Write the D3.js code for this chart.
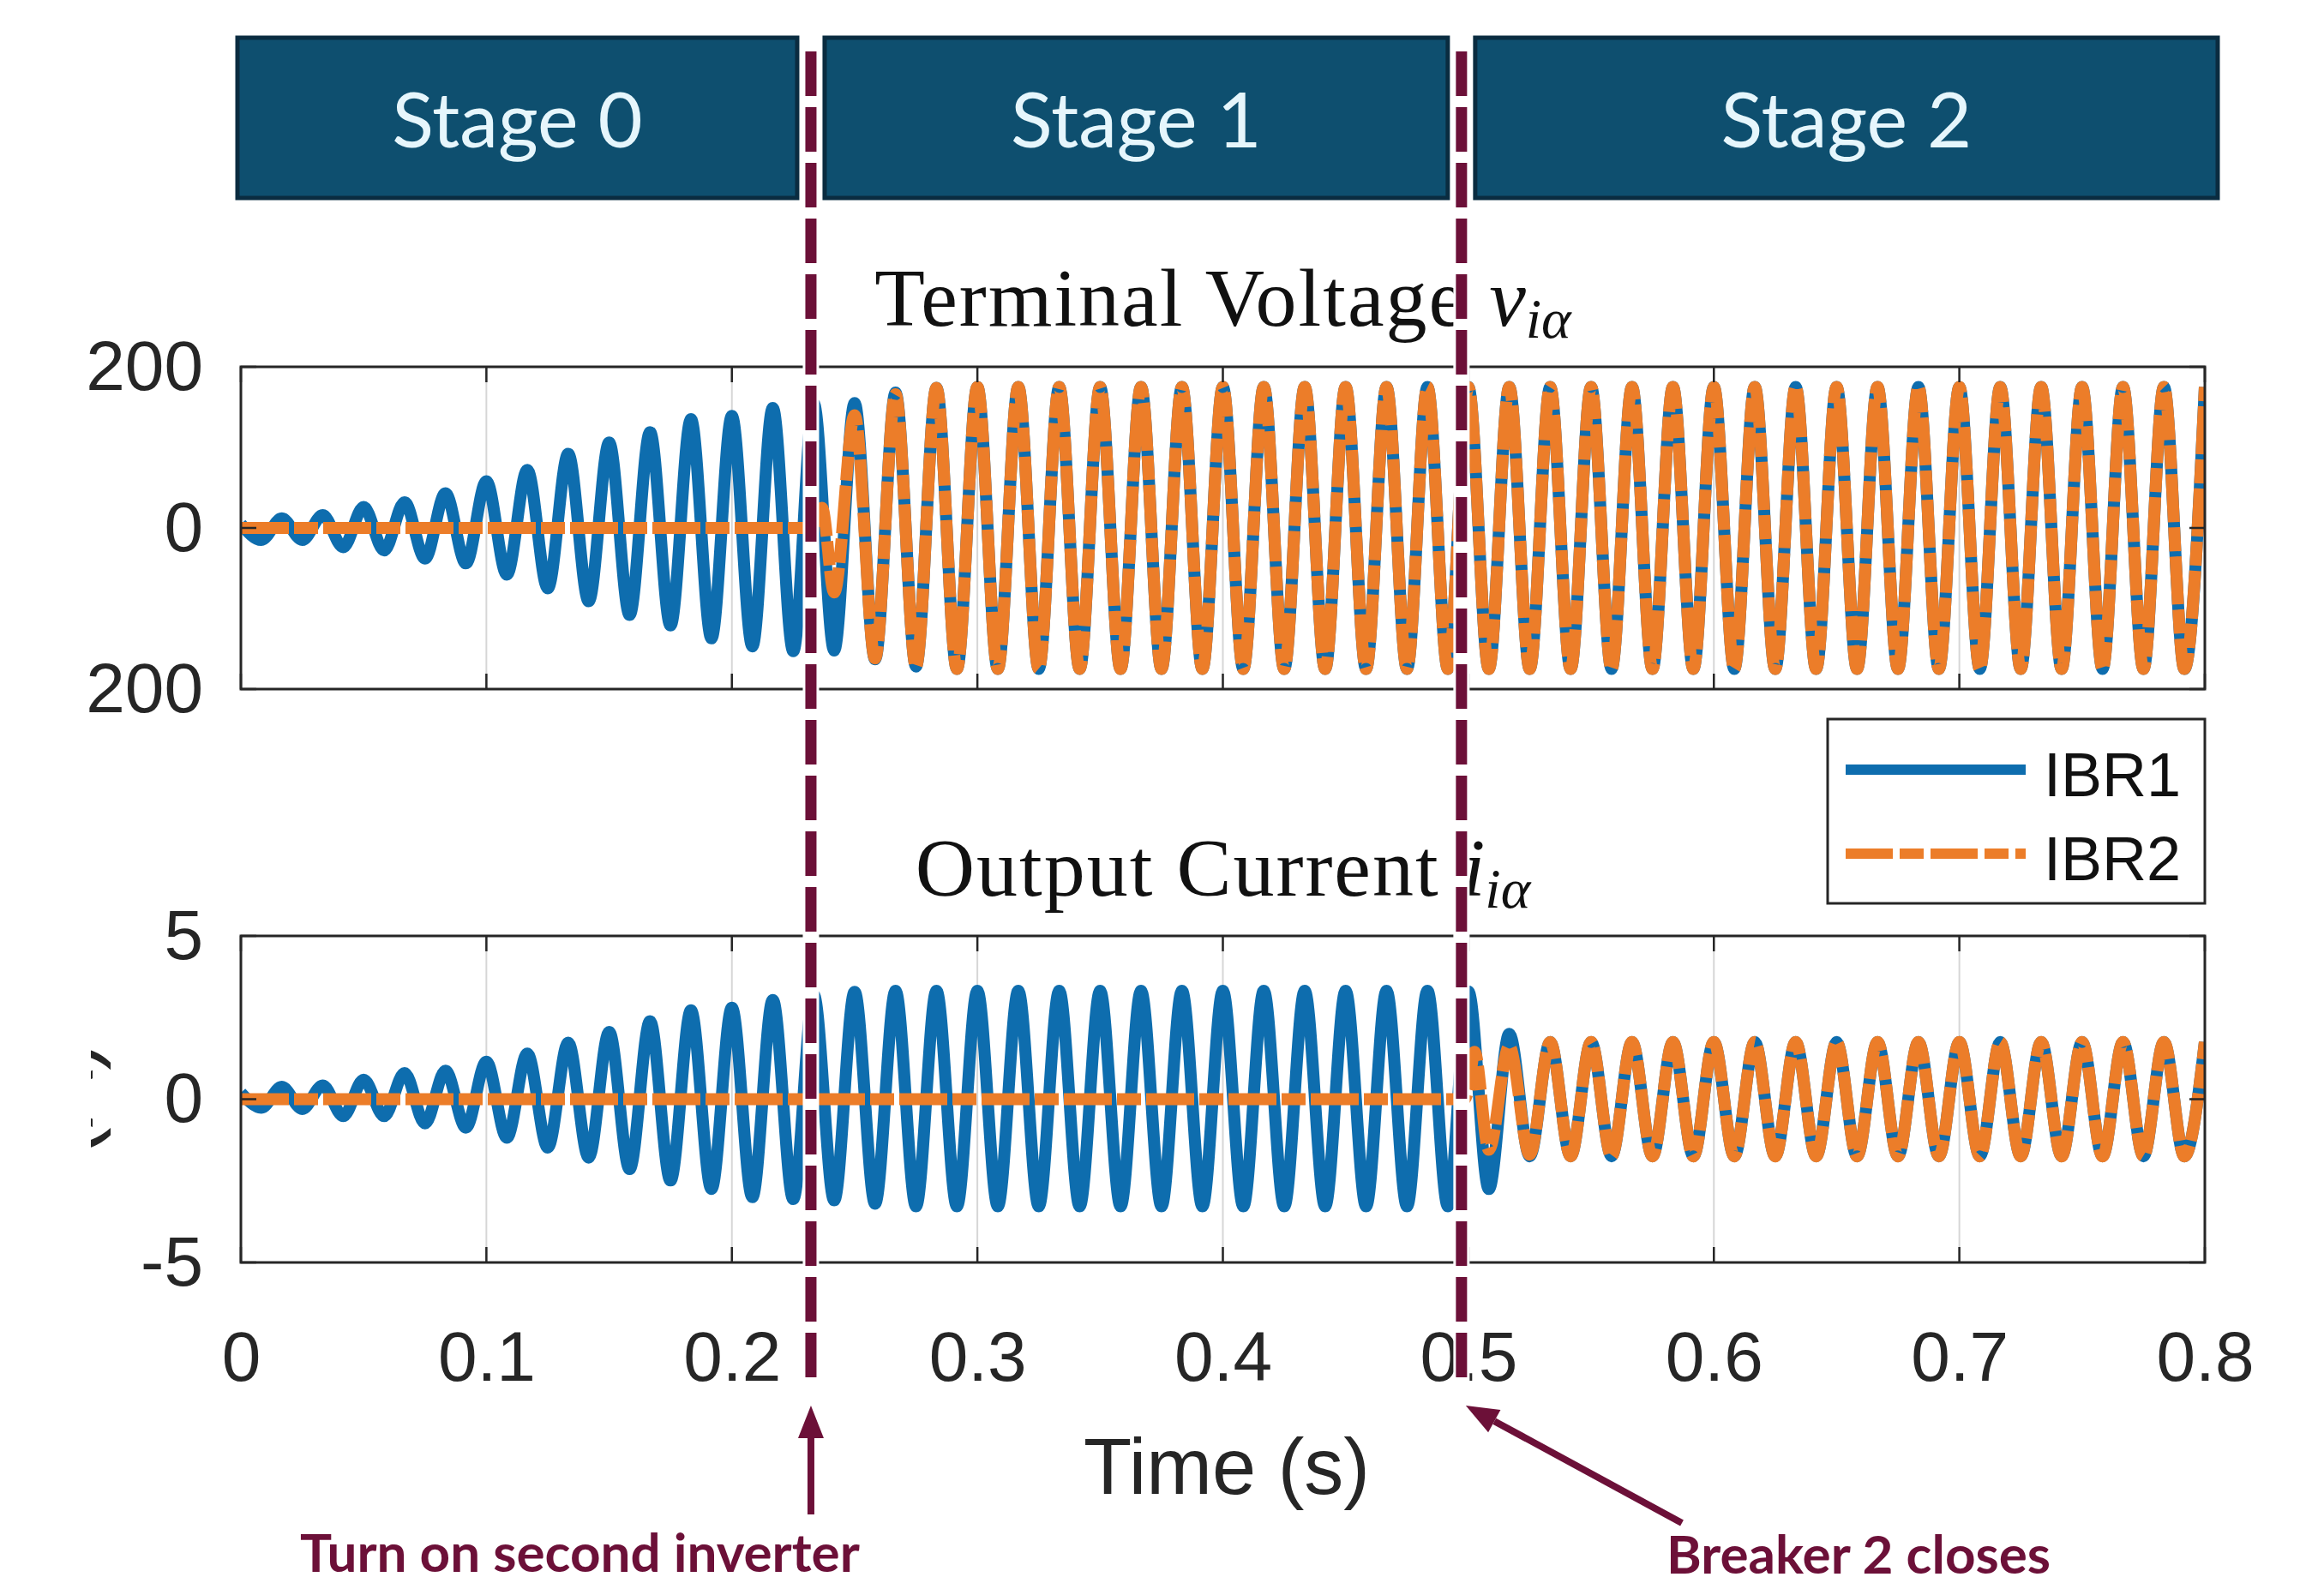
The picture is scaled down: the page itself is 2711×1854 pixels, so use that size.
<!DOCTYPE html>
<html>
<head>
<meta charset="utf-8">
<script src="https://cdn.jsdelivr.net/npm/d3@7"></script>
<style>
    body { margin: 0; background: #fff; }
    svg { display: block; background: #fff; }
</style>
</head>
<body>
<svg id="chart" width="2711" height="1854"></svg>
<script>
// one extremum per half cycle of the 60 Hz waveform (1/120 s), t = 0 ... 0.8 s
var halfCycle = 1 / 120;

// terminal voltage v_ia, peak / trough of every half cycle
var voltIBR1 = [
    5, -15, 12, -15, 16, -24, 26, -28, 32, -38,
    43, -44, 58, -58, 72, -75, 92, -91, 106, -108,
    119, -121, 135, -137, 139, -147, 149, -153, 155, -152,
    155, -163, 168, -172, 174, -175, 175, -175, 175, -175,
    175, -175, 175, -175, 175, -175, 175, -175, 175, -175,
    175, -175, 175, -175, 175, -175, 175, -175, 175, -175,
    175, -175, 175, -175, 175, -175, 175, -175, 175, -175,
    175, -175, 175, -175, 175, -175, 175, -175, 175, -175,
    175, -175, 175, -175, 175, -175, 175, -175, 175, -175,
    175, -175, 175, -175, 175, -175, 175
];
var voltIBR2 = [
    0, 0, 0, 0, 0, 0, 0, 0, 0, 0,
    0, 0, 0, 0, 0, 0, 0, 0, 0, 0,
    0, 0, 0, 0, 0, 0, 0, 0, 0, -80,
    140, -162, 166, -172, 174, -175, 175, -175, 175, -175,
    175, -175, 175, -175, 175, -175, 175, -175, 175, -175,
    175, -175, 175, -175, 175, -175, 175, -175, 175, -175,
    175, -175, 175, -175, 175, -175, 175, -175, 175, -175,
    175, -175, 175, -175, 175, -175, 175, -175, 175, -175,
    175, -175, 175, -175, 175, -175, 175, -175, 175, -175,
    175, -175, 175, -175, 175, -175, 175
];
// small bump right after the second inverter turns on  [t, v]
var voltIBR2Extra = [[0.2367, 25]];

// output current i_ia, peak / trough of every half cycle
var currIBR1 = [
    0.2, -0.26, 0.38, -0.3, 0.42, -0.52, 0.6, -0.52, 0.8, -0.74,
    0.87, -0.87, 1.15, -1.18, 1.4, -1.48, 1.73, -1.79, 2.06, -2.14,
    2.39, -2.49, 2.72, -2.75, 2.8, -3.0, 3.04, -3.06, 3.2, -3.1,
    3.29, -3.2, 3.32, -3.28, 3.32, -3.28, 3.32, -3.28, 3.32, -3.28,
    3.32, -3.28, 3.32, -3.28, 3.32, -3.28, 3.32, -3.28, 3.32, -3.28,
    3.32, -3.28, 3.32, -3.28, 3.32, -3.28, 3.32, -3.28, 3.32, -3.28,
    3.3, -2.75, 2.0, -1.75, 1.75, -1.75, 1.75, -1.75, 1.75, -1.75,
    1.75, -1.75, 1.75, -1.75, 1.75, -1.75, 1.75, -1.75, 1.75, -1.75,
    1.75, -1.75, 1.75, -1.75, 1.75, -1.75, 1.75, -1.75, 1.75, -1.75,
    1.75, -1.75, 1.75, -1.75, 1.75, -1.75, 1.75
];
var currIBR2 = [
    0, 0, 0, 0, 0, 0, 0, 0, 0, 0,
    0, 0, 0, 0, 0, 0, 0, 0, 0, 0,
    0, 0, 0, 0, 0, 0, 0, 0, 0, 0,
    0, 0, 0, 0, 0, 0, 0, 0, 0, 0,
    0, 0, 0, 0, 0, 0, 0, 0, 0, 0,
    0, 0, 0, 0, 0, 0, 0, 0, 0, 0,
    0.3, -1.55, 1.62, -1.7, 1.75, -1.75, 1.75, -1.75, 1.75, -1.75,
    1.75, -1.75, 1.75, -1.75, 1.75, -1.75, 1.75, -1.75, 1.75, -1.75,
    1.75, -1.75, 1.75, -1.75, 1.75, -1.75, 1.75, -1.75, 1.75, -1.75,
    1.75, -1.75, 1.75, -1.75, 1.75, -1.75, 1.75
];
var currIBR2Extra = [[0.4985, 0], [0.5025, 1.45]];

// axes
var timeTicks = [0, 0.1, 0.2, 0.3, 0.4, 0.5, 0.6, 0.7, 0.8];
var timeTickLabels = ['0', '0.1', '0.2', '0.3', '0.4', '0.5', '0.6', '0.7', '0.8'];
var voltTicks = [-200, 0, 200];
var voltTickLabels = ['200', '0', '200'];
var currTicks = [-5, 0, 5];
var currTickLabels = ['-5', '0', '5'];

// events and stages
var eventTimes = [0.2322, 0.4972];
var eventLabels = ['Turn on second inverter', 'Breaker 2 closes'];
var stageLabels = ['Stage 0', 'Stage 1', 'Stage 2'];
var seriesNames = ['IBR1', 'IBR2'];

var BLUE = '#0e6dae',
    ORANGE = '#ec7d29',
    MAROON = '#6c1038',
    AXIS = '#262626',
    DASHDOT = '56,6,28,6';
var SANS = '"Liberation Sans", Arial, sans-serif',
    SERIF = '"Liberation Serif", "Times New Roman", serif';

var svg = d3.select('#chart');
var x = d3.scaleLinear().domain([0, 0.8]).range([281, 2572]);

// turn a per-half-cycle list into [t, v] points, plus any off-grid points
function buildPoints(values, extra) {
    var pts = values.map(function (v, k) { return [k * halfCycle, v]; });
    (extra || []).forEach(function (p) { pts.push(p); });
    pts.sort(function (a, b) { return a[0] - b[0]; });
    return pts;
}

function drawTitle(label, sym, cy) {
    var t = svg.append('text')
        .attr('x', (x.range()[0] + x.range()[1]) / 2)
        .attr('y', cy)
        .attr('text-anchor', 'middle')
        .style('font-family', SERIF)
        .style('font-size', '96px')
        .style('letter-spacing', '2px')
        .style('fill', '#111');
    t.append('tspan').text(label + ' ');
    t.append('tspan').style('font-style', 'italic').style('letter-spacing', '0px').text(sym);
    t.append('tspan').style('font-style', 'italic').style('font-size', '66px')
        .style('letter-spacing', '0px').attr('dy', 14).text('i\u03B1');
}

function drawPanel(p) {
    var y = d3.scaleLinear().domain(p.domain).range([p.bottom, p.top]);
    var g = svg.append('g').attr('class', 'panel-' + p.id);
    var x0 = x.range()[0], x1 = x.range()[1];

    g.append('clipPath').attr('id', 'clip-' + p.id)
        .append('rect')
        .attr('x', x0).attr('y', p.top)
        .attr('width', x1 - x0).attr('height', p.bottom - p.top);

    // vertical grid
    g.selectAll('.grid')
        .data(timeTicks.slice(1, -1))
        .enter().append('line')
        .attr('x1', x).attr('x2', x)
        .attr('y1', p.top).attr('y2', p.bottom)
        .style('stroke', '#d6d6d6')
        .style('stroke-width', 2);

    var line = d3.line()
        .x(function (d) { return x(d[0]); })
        .y(function (d) { return y(d[1]); })
        .curve(d3.curveMonotoneX);

    var plot = g.append('g').attr('clip-path', 'url(#clip-' + p.id + ')');
    plot.append('path')
        .datum(buildPoints(p.ibr1))
        .attr('d', line)
        .style('fill', 'none')
        .style('stroke', BLUE)
        .style('stroke-width', 14)
        .style('stroke-linejoin', 'round');
    plot.append('path')
        .datum(buildPoints(p.ibr2, p.ibr2Extra))
        .attr('d', line)
        .style('fill', 'none')
        .style('stroke', ORANGE)
        .style('stroke-width', 14)
        .style('stroke-dasharray', DASHDOT)
        .style('stroke-linejoin', 'round');

    // box
    g.append('rect')
        .attr('x', x0).attr('y', p.top)
        .attr('width', x1 - x0).attr('height', p.bottom - p.top)
        .style('fill', 'none')
        .style('stroke', AXIS)
        .style('stroke-width', 3);

    // inner ticks, top and bottom edges
    timeTicks.forEach(function (t) {
        [[p.top, p.top + 18], [p.bottom, p.bottom - 18]].forEach(function (s) {
            g.append('line')
                .attr('x1', x(t)).attr('x2', x(t))
                .attr('y1', s[0]).attr('y2', s[1])
                .style('stroke', AXIS).style('stroke-width', 2.5);
        });
    });
    p.ticks.forEach(function (v) {
        [[x0, x0 + 18], [x1, x1 - 18]].forEach(function (s) {
            g.append('line')
                .attr('x1', s[0]).attr('x2', s[1])
                .attr('y1', y(v)).attr('y2', y(v))
                .style('stroke', AXIS).style('stroke-width', 2.5);
        });
    });

    var yAxis = d3.axisLeft(y)
        .tickValues(p.ticks)
        .tickFormat(function (d, i) { return p.labels[i]; })
        .tickSize(0)
        .tickPadding(44);
    var ya = g.append('g').attr('transform', 'translate(' + x0 + ',0)').call(yAxis);
    ya.select('.domain').remove();
    ya.selectAll('text')
        .style('font-family', SANS)
        .style('font-size', '82px')
        .style('fill', AXIS);

    if (p.xAxis) {
        var xAxis = d3.axisBottom(x)
            .tickValues(timeTicks)
            .tickFormat(function (d, i) { return timeTickLabels[i]; })
            .tickSize(0)
            .tickPadding(80);
        var xa = g.append('g').attr('transform', 'translate(0,' + p.bottom + ')').call(xAxis);
        xa.select('.domain').remove();
        xa.selectAll('text')
            .style('font-family', SANS)
            .style('font-size', '82px')
            .style('fill', AXIS);
    }
    return y;
}

drawTitle('Terminal Voltage', 'v', 380);
drawTitle('Output Current', 'i', 1045);

drawPanel({
    id: 'volt', top: 428, bottom: 804, domain: [-200, 200],
    ticks: voltTicks, labels: voltTickLabels,
    ibr1: voltIBR1, ibr2: voltIBR2, ibr2Extra: voltIBR2Extra
});
drawPanel({
    id: 'curr', top: 1092, bottom: 1473, domain: [-5, 5],
    ticks: currTicks, labels: currTickLabels,
    ibr1: currIBR1, ibr2: currIBR2, ibr2Extra: currIBR2Extra,
    xAxis: true
});

// x label
svg.append('text')
    .attr('x', 1431).attr('y', 1743)
    .attr('text-anchor', 'middle')
    .style('font-family', SANS)
    .style('font-size', '92px')
    .style('fill', AXIS)
    .text('Time (s)');

// what is left of the y label, cut at the figure edge
svg.append('clipPath').attr('id', 'clip-ylabel')
    .append('rect').attr('x', 106).attr('y', 1150).attr('width', 60).attr('height', 260);
svg.append('g')
    .attr('clip-path', 'url(#clip-ylabel)')
    .append('text')
    .attr('transform', 'translate(108,1282) rotate(-90)')
    .attr('text-anchor', 'middle')
    .style('font-family', SANS)
    .style('font-size', '100px')
    .style('fill', AXIS)
    .text('(A)');

// legend
var legend = svg.append('g').attr('class', 'legend');
legend.append('rect')
    .attr('x', 2132).attr('y', 839)
    .attr('width', 440).attr('height', 215)
    .style('fill', '#fff')
    .style('stroke', AXIS)
    .style('stroke-width', 3);
seriesNames.forEach(function (name, i) {
    var ly = 898 + i * 98;
    legend.append('line')
        .attr('x1', 2153).attr('x2', 2363)
        .attr('y1', ly).attr('y2', ly)
        .style('stroke', i === 0 ? BLUE : ORANGE)
        .style('stroke-width', 12)
        .style('stroke-dasharray', i === 0 ? null : '55,8,28,8');
    legend.append('text')
        .attr('x', 2384).attr('y', ly + 31)
        .style('font-family', SANS)
        .style('font-size', '72px')
        .style('fill', '#111')
        .text(name);
});

// stage banners
var stageEdges = [0].concat(eventTimes, [0.8]);
stageLabels.forEach(function (label, i) {
    var left = x(stageEdges[i]) + (i === 0 ? -4 : 16),
        right = x(stageEdges[i + 1]) + (i === stageLabels.length - 1 ? 15 : -16);
    svg.append('rect')
        .attr('x', left).attr('y', 44)
        .attr('width', right - left).attr('height', 187)
        .style('fill', '#0e4f6f')
        .style('stroke', '#0a2c40')
        .style('stroke-width', 5);
    svg.append('text')
        .attr('x', (left + right) / 2).attr('y', 172)
        .attr('text-anchor', 'middle')
        .style('font-family', 'Lato, "Open Sans", sans-serif')
        .style('font-size', '90px')
        .style('fill', '#e6f6fc')
        .text(label);
});

// event lines
eventTimes.forEach(function (t) {
    svg.append('line')
        .attr('x1', x(t)).attr('x2', x(t))
        .attr('y1', 58).attr('y2', 1622)
        .style('stroke', '#fff')
        .style('stroke-width', 19);
    svg.append('line')
        .attr('x1', x(t)).attr('x2', x(t))
        .attr('y1', 60).attr('y2', 1620)
        .style('stroke', MAROON)
        .style('stroke-width', 13)
        .style('stroke-dasharray', '52,13');
});

// annotation arrows
function arrow(x1, y1, x2, y2) {
    var ang = Math.atan2(y2 - y1, x2 - x1),
        len = 38, half = 15;
    var bx = x2 - len * Math.cos(ang), by = y2 - len * Math.sin(ang);
    svg.append('line')
        .attr('x1', x1).attr('y1', y1)
        .attr('x2', bx).attr('y2', by)
        .style('stroke', MAROON)
        .style('stroke-width', 8);
    svg.append('polygon')
        .attr('points', [
            [x2, y2],
            [bx + half * Math.sin(ang), by - half * Math.cos(ang)],
            [bx - half * Math.sin(ang), by + half * Math.cos(ang)]
        ].map(function (d) { return d.join(','); }).join(' '))
        .style('fill', MAROON);
}
arrow(x(eventTimes[0]), 1767, x(eventTimes[0]), 1640);
arrow(1962, 1777, x(eventTimes[1]) + 5, 1640);

svg.append('text')
    .attr('x', 350).attr('y', 1834)
    .style('font-family', 'Lato, "Open Sans", sans-serif')
    .style('font-weight', 700)
    .style('font-size', '62px')
    .style('fill', MAROON)
    .text(eventLabels[0]);
svg.append('text')
    .attr('x', 1944).attr('y', 1836)
    .style('font-family', 'Lato, "Open Sans", sans-serif')
    .style('font-weight', 700)
    .style('font-size', '62px')
    .style('fill', MAROON)
    .text(eventLabels[1]);
</script>
</body>
</html>
